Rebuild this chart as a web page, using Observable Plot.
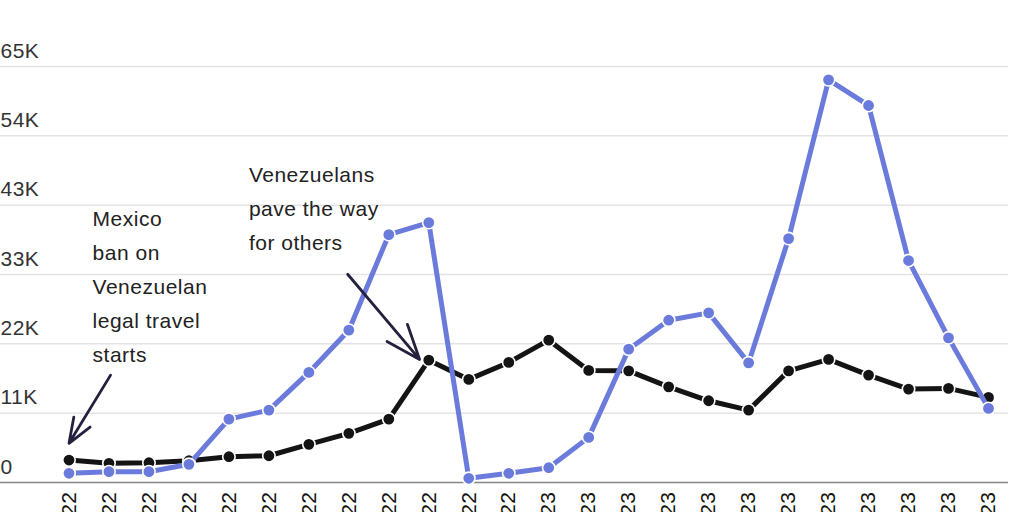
<!DOCTYPE html>
<html><head><meta charset="utf-8">
<script src="https://cdn.jsdelivr.net/npm/d3@7"></script>
<script src="https://cdn.jsdelivr.net/npm/@observablehq/plot@0.6"></script>
<style>
body{margin:0;background:#fff;font-family:"Liberation Sans",Arial,sans-serif;}
#wrap{position:relative;width:1024px;height:512px;overflow:hidden;}
#sub{position:absolute;left:0;top:-19px;font-size:21px;line-height:21px;color:#333;white-space:nowrap;letter-spacing:0.5px;}
#chart{position:absolute;left:0;top:0;}
#chart svg text{letter-spacing:0.5px;}
</style></head><body>
<div id="wrap"><div id="sub">Monthly arrivals, Venezuelans and others</div><div id="chart"></div></div>
<script>
const months = ["Jan 2022","Feb 2022","Mar 2022","Apr 2022","May 2022","Jun 2022","Jul 2022","Aug 2022","Sep 2022","Oct 2022","Nov 2022","Dec 2022",
                "Jan 2023","Feb 2023","Mar 2023","Apr 2023","May 2023","Jun 2023","Jul 2023","Aug 2023","Sep 2023","Oct 2023","Nov 2023","Dec 2023"];
const venezuelans = [1440, 1690, 1690, 2840, 9910, 11310, 17200, 23800, 38730, 40610, 660, 1440,
                     2310, 7050, 20830, 25360, 26500, 18700, 38110, 62920, 58910, 34680, 22600, 11580];
const others = [3510, 3000, 3090, 3400, 4030, 4180, 5960, 7680, 9910, 19120, 16110, 18760,
                22240, 17510, 17450, 14950, 12770, 11310, 17450, 19230, 16780, 14590, 14700, 13300];
const yTicks = [0, 10833, 21667, 32500, 43333, 54167, 65000];
const yLabels = ["0", "11K", "22K", "33K", "43K", "54K", "65K"];

const noteText = ["Mexico\nban on\nVenezuelan\nlegal travel\nstarts", "Venezuelans\npave the way\nfor others"];
const noteX = [0.59, 4.5];
const noteY = [43900, 50800];
const arrowX1 = [1.04, 6.97];
const arrowY1 = [16780, 32540];
const arrowX2 = [0, 8.77];
const arrowY2 = [6120, 19230];

const idx = d3.range(months.length);
const rows = idx.map(i => ({i, v: venezuelans[i], o: others[i]}));
const notes = noteText.map((t, k) => ({t, x: noteX[k], y: noteY[k]}));
const arrows = arrowX1.map((_, k) => ({x1: arrowX1[k], y1: arrowY1[k], x2: arrowX2[k], y2: arrowY2[k]}));

const blue = "#6b7bdc", black = "#141414";
const chart = Plot.plot({
  width: 1024, height: 572, marginTop: 66, marginBottom: 90, marginLeft: 0, marginRight: 16,
  style: {fontFamily: "Liberation Sans, Arial, sans-serif", fontSize: "21px", color: "#222", background: "white"},
  x: {type: "linear", domain: [0, 23], insetLeft: 68.5, insetRight: 20, label: null},
  y: {domain: [0, 65000], label: null},
  marks: [
    Plot.gridY(yTicks, {stroke: "#e3e3e3", strokeOpacity: 1, strokeWidth: 1.5}),
    Plot.axisY(yTicks, {tickSize: 0, tickPadding: 0, textAnchor: "start", lineAnchor: "bottom", dy: -9,
      tickFormat: d => yLabels[yTicks.indexOf(d)], fill: "#333", fontSize: 21, label: null}),
    Plot.ruleY([0], {stroke: "#8a8a8a", strokeWidth: 1.5}),
    Plot.axisX(idx, {tickSize: 0, tickPadding: 9, tickRotate: -90, tickFormat: i => months[i], fill: "#111", fontSize: 21, label: null}),
    Plot.line(rows, {x: "i", y: "o", stroke: black, strokeWidth: 5}),
    Plot.dot(rows, {x: "i", y: "o", r: 6.2, fill: black, stroke: "white", strokeWidth: 1.6}),
    Plot.line(rows, {x: "i", y: "v", stroke: blue, strokeWidth: 5}),
    Plot.dot(rows, {x: "i", y: "v", r: 6.2, fill: blue, stroke: "white", strokeWidth: 1.6}),
    Plot.arrow(arrows, {x1: "x1", y1: "y1", x2: "x2", y2: "y2", stroke: "#24213f", strokeWidth: 2.8, headLength: 21, headAngle: 42}),
    Plot.text(notes, {x: "x", y: "y", text: "t", textAnchor: "start", lineAnchor: "top", lineHeight: 1.62, fontSize: 21, fill: "#222"})
  ]
});
document.getElementById("chart").appendChild(chart);
</script>
</body></html>
